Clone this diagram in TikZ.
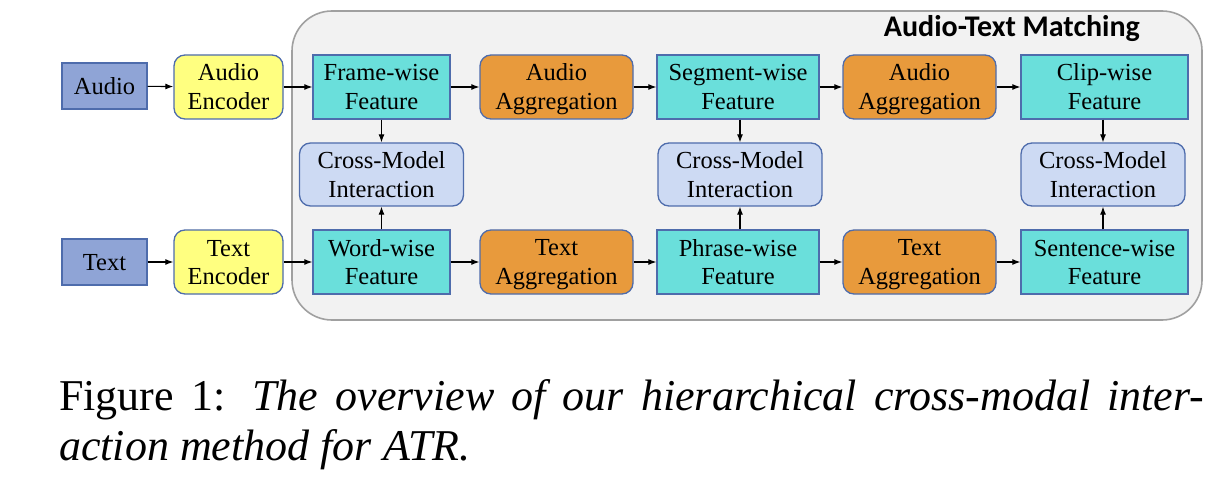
\documentclass[tikz,border=0pt]{standalone}
\usepackage{fontspec}
\setmainfont{Liberation Serif}
\newfontfamily\titlefont{Carlito}
\usetikzlibrary{arrows.meta}
\definecolor{inputfill}{RGB}{143,164,214}
\definecolor{encfill}{RGB}{255,255,128}
\definecolor{featfill}{RGB}{106,223,219}
\definecolor{aggfill}{RGB}{232,154,60}
\definecolor{cmfill}{RGB}{205,218,243}
\definecolor{boxborder}{RGB}{78,108,172}
\definecolor{panelfill}{RGB}{242,242,242}
\definecolor{panelborder}{RGB}{160,160,160}
\newcommand\twolines[2]{{\renewcommand\arraystretch{0}\setlength\tabcolsep{0pt}%
  \begin{tabular}{c}\rule[-7pt]{0pt}{29pt}#1\\\rule[-5pt]{0pt}{27pt}#2\end{tabular}}}
\newcommand\oneline[1]{\rule[-5pt]{0pt}{27pt}#1}
\tikzset{
  base/.style={draw=boxborder, line width=1.3pt, inner sep=0pt,
    font=\rmfamily\fontsize{24.5}{29}\selectfont, text=black},
  inputbox/.style={base, fill=inputfill, minimum width=85pt, minimum height=46pt},
  encbox/.style={base, fill=encfill, rounded corners=11pt, minimum width=109pt, minimum height=64pt},
  featbox/.style={base, fill=featfill, minimum height=64pt},
  aggbox/.style={base, fill=aggfill, rounded corners=11pt, minimum width=153pt, minimum height=64pt},
  cmbox/.style={base, fill=cmfill, rounded corners=11pt, minimum width=164pt, minimum height=63pt},
  arr/.style={-{Latex[length=8pt,width=6pt]}, line width=1.1pt, black},
}
\begin{document}
\begin{tikzpicture}[x=1pt,y=-1pt]
\useasboundingbox (0,0) rectangle (1226,481);
% panel
\draw[fill=panelfill, draw=panelborder, line width=1.6pt, rounded corners=40pt] (292,11) rectangle (1202,320);
\node[anchor=base east, inner sep=0pt, font=\titlefont\bfseries\fontsize{30}{33}\selectfont] (title) at (1140,37) {Audio-Text Matching};
% inputs
\node[inputbox] (audio) at (104.5,86) {\oneline{Audio}};
\node[inputbox] (text) at (104.5,262) {\oneline{Text}};
\node[encbox] (aenc) at (228.5,87) {\twolines{Audio}{Encoder}};
\node[encbox] (tenc) at (228.5,262) {\twolines{Text}{Encoder}};
% top row
\node[featbox, minimum width=137pt] (frame) at (381.5,87) {\twolines{Frame-wise}{Feature}};
\node[aggbox] (aagg1) at (556.5,87) {\twolines{Audio}{Aggregation}};
\node[featbox, minimum width=162pt] (seg) at (738,87) {\twolines{Segment-wise}{Feature}};
\node[aggbox] (aagg2) at (919.5,87) {\twolines{Audio}{Aggregation}};
\node[featbox, minimum width=167pt] (clip) at (1104.5,87) {\twolines{Clip-wise}{Feature}};
% middle
\node[cmbox] (cm1) at (381.5,174.5) {\twolines{Cross-Model}{Interaction}};
\node[cmbox] (cm2) at (740,174.5) {\twolines{Cross-Model}{Interaction}};
\node[cmbox] (cm3) at (1103,174.5) {\twolines{Cross-Model}{Interaction}};
% bottom row
\node[featbox, minimum width=137pt] (word) at (381.5,262) {\twolines{Word-wise}{Feature}};
\node[aggbox] (tagg1) at (556.5,262) {\twolines{Text}{Aggregation}};
\node[featbox, minimum width=162pt] (phrase) at (738,262) {\twolines{Phrase-wise}{Feature}};
\node[aggbox] (tagg2) at (919.5,262) {\twolines{Text}{Aggregation}};
\node[featbox, minimum width=167pt] (sent) at (1104.5,262) {\twolines{Sentence-wise}{Feature}};
% arrows
\draw[arr] (audio) -- (aenc);
\draw[arr] (text) -- (tenc);
\draw[arr] (aenc) -- (frame);
\draw[arr] (tenc) -- (word);
\draw[arr] (frame) -- (aagg1);
\draw[arr] (aagg1) -- (seg);
\draw[arr] (seg) -- (aagg2);
\draw[arr] (aagg2) -- (clip);
\draw[arr] (word) -- (tagg1);
\draw[arr] (tagg1) -- (phrase);
\draw[arr] (phrase) -- (tagg2);
\draw[arr] (tagg2) -- (sent);
\draw[arr] (frame) -- (cm1);
\draw[arr] (word) -- (cm1);
\draw[arr] (seg.south -| cm2) -- (cm2);
\draw[arr] (phrase.north -| cm2) -- (cm2);
\draw[arr] (clip.south -| cm3) -- (cm3);
\draw[arr] (sent.north -| cm3) -- (cm3);
% caption
\node[anchor=base west, inner sep=0pt, font=\fontsize{44}{50}\selectfont] (cap1) at (59,410)
  {\hbox to 1145pt{Figure 1: \textit{The overview of our hierarchical cross-modal inter-}}};
\node[anchor=base west, inner sep=0pt, font=\fontsize{44}{50}\selectfont] (cap2) at (59,460)
  {\textit{action method for ATR.}};
\end{tikzpicture}
\end{document}
